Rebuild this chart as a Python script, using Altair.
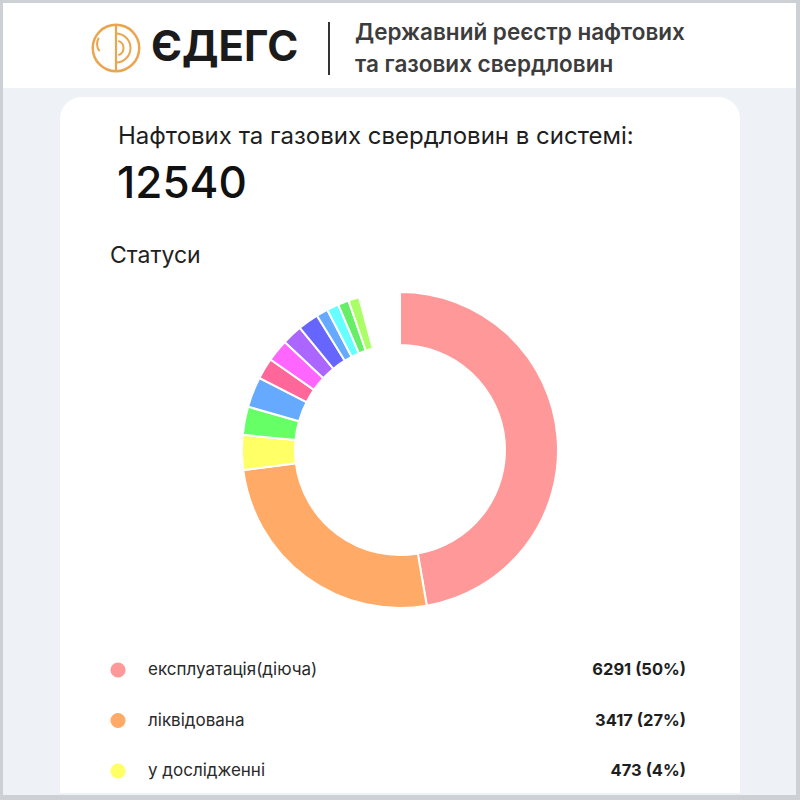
import math
import altair as alt
import pandas as pd

# ---- data ----
total_wells = 12540
statuses = [
    "експлуатація(діюча)", "ліквідована", "у дослідженні",
    "статус 4", "статус 5", "статус 6", "статус 7", "статус 8",
    "статус 9", "статус 10", "статус 11", "статус 12", "статус 13",
]
counts = [6291, 3417, 473, 385, 414, 289, 303, 278, 281, 159, 163, 148, 148]
colors = [
    "#ff9999", "#ffaa66", "#ffff66", "#66ff66", "#66aaff", "#ff6699",
    "#ff66ff", "#aa66ff", "#6666ff", "#66aaff", "#66ffff", "#66ee66", "#aaff66",
]
legend_pct = [50, 27, 4]

title_text = "Нафтових та газових свердловин в системі:"
section_text = "Статуси"
brand_text = "ЄДЕГС"
subtitle_lines = ["Державний реєстр нафтових", "та газових свердловин"]

ORANGE = "#eaa64e"
FONT = "Inter"

donut_df = pd.DataFrame({"status": statuses, "value": counts, "idx": list(range(len(counts)))})
n_leg = len(legend_pct)
legend_df = pd.DataFrame({
    "row": list(range(n_leg)),
    "status": statuses[:n_leg],
    "label": [f"{c} ({p}%)" for c, p in zip(counts[:n_leg], legend_pct)],
})
one = pd.DataFrame({"k": [0]})


def rect(x, x2, y, y2, color, **kw):
    return alt.Chart(one).mark_rect(color=color, **kw).encode(
        x=alt.value(x), x2=alt.value(x2), y=alt.value(y), y2=alt.value(y2))


def text(t, x, y, size, weight="normal", color="#222222", align="left"):
    return alt.Chart(pd.DataFrame({"t": [t]})).mark_text(
        align=align, baseline="middle", font=FONT, fontSize=size,
        fontWeight=weight, color=color, x=x, y=y).encode(text="t:N")


# ---- page background ----
bg_inner = rect(3, 796, 3, 795, "#eef2f6")
header = rect(3, 796, 3, 88, "#ffffff")
card = rect(60, 740, 97, 793, "#ffffff", cornerRadiusTopLeft=22, cornerRadiusTopRight=22)

# ---- logo ----
logo_ring = alt.Chart(one).mark_arc(
    innerRadius=22, outerRadius=24.5, theta=0, theta2=2 * math.pi, color=ORANGE
).encode(x=alt.value(116), y=alt.value(48))
logo_arc1 = alt.Chart(one).mark_arc(
    innerRadius=13.5, outerRadius=15.5, theta=0, theta2=math.pi, color=ORANGE
).encode(x=alt.value(116), y=alt.value(48))
logo_arc2 = alt.Chart(one).mark_arc(
    innerRadius=6.5, outerRadius=8.5, theta=0.3, theta2=math.pi - 0.3, color=ORANGE
).encode(x=alt.value(116), y=alt.value(48))
logo_arc3 = alt.Chart(one).mark_arc(
    innerRadius=10, outerRadius=12, theta=4.0, theta2=5.3, color=ORANGE
).encode(x=alt.value(108), y=alt.value(44))
logo_line = alt.Chart(one).mark_rule(color=ORANGE, strokeWidth=2.2).encode(
    x=alt.value(116), y=alt.value(25), y2=alt.value(71))

brand = text(brand_text, 151, 48, 42, "bold", "#1b1b1b")
divider = alt.Chart(one).mark_rule(color="#333333", strokeWidth=2).encode(
    x=alt.value(329), y=alt.value(22), y2=alt.value(75))
sub1 = text(subtitle_lines[0], 355, 33, 22.5, 600, "#3c3c3c")
sub2 = text(subtitle_lines[1], 355, 65, 22.5, 600, "#3c3c3c")

# ---- card texts ----
t_title = text(title_text, 118, 137, 24, "normal", "#1e1e1e")
t_total = text(str(total_wells), 117, 185, 44, 500, "#111111")
t_section = text(section_text, 110, 256, 23, "normal", "#222222")

# ---- donut ----
color_scale = alt.Scale(domain=statuses, range=colors)
donut = alt.Chart(donut_df).mark_arc(
    innerRadius=105, outerRadius=158, stroke="white", strokeWidth=2
).encode(
    theta=alt.Theta("value:Q", stack=True,
                    scale=alt.Scale(range=[0, 2 * math.pi * 345 / 360])),
    color=alt.Color("status:N", scale=color_scale, legend=None),
    order=alt.Order("idx:Q"),
    x=alt.value(400),
    y=alt.value(450),
)

# ---- legend ----
ly = alt.Y("row:Q", scale=alt.Scale(domain=[0, n_leg - 1], range=[670, 771]), axis=None)
leg_dots = alt.Chart(legend_df).mark_circle(size=230, opacity=1).encode(
    x=alt.value(118), y=ly,
    color=alt.Color("status:N", scale=color_scale, legend=None))
leg_labels = alt.Chart(legend_df).mark_text(
    align="left", baseline="middle", font=FONT, fontSize=17, color="#2a2a2a"
).encode(x=alt.value(148), y=ly, text="status:N")
leg_values = alt.Chart(legend_df).mark_text(
    align="right", baseline="middle", font=FONT, fontSize=16.5, fontWeight="bold", color="#1e1e1e"
).encode(x=alt.value(686), y=ly, text="label:N")

chart = alt.layer(
    bg_inner, header, card,
    logo_ring, logo_arc1, logo_arc2, logo_arc3, logo_line,
    brand, divider, sub1, sub2,
    t_title, t_total, t_section,
    donut, leg_dots, leg_labels, leg_values,
).properties(
    width=800, height=800, padding=0, autosize="none", background="#cdd1d6"
).configure_view(stroke=None)

chart.save("out.html", embed_options={"renderer": "svg", "actions": False})
